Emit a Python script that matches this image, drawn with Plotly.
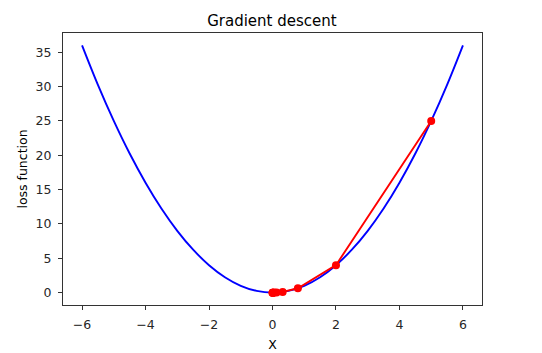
import plotly.graph_objects as go

# loss curve samples (y = x^2)
curve_x = [-6.0, -5.5, -5.0, -4.5, -4.0, -3.5, -3.0, -2.5, -2.0, -1.5, -1.0, -0.5, 0.0,
           0.5, 1.0, 1.5, 2.0, 2.5, 3.0, 3.5, 4.0, 4.5, 5.0, 5.5, 6.0]
curve_y = [36.0, 30.25, 25.0, 20.25, 16.0, 12.25, 9.0, 6.25, 4.0, 2.25, 1.0, 0.25, 0.0,
           0.25, 1.0, 2.25, 4.0, 6.25, 9.0, 12.25, 16.0, 20.25, 25.0, 30.25, 36.0]

# gradient descent steps
steps_x = [5.0, 2.0, 0.8, 0.32, 0.128, 0.0512, 0.02048, 0.008192, 0.0032768, 0.00131072]
steps_y = [25.0, 4.0, 0.64, 0.1024, 0.016384, 0.00262144, 0.00041943, 0.0000671, 0.0000107, 0.0000017]

x_ticks = [-6, -4, -2, 0, 2, 4, 6]
y_ticks = [0, 5, 10, 15, 20, 25, 30, 35]

fig = go.Figure()
fig.add_trace(go.Scatter(x=curve_x, y=curve_y, mode="lines",
                         line=dict(color="#0000ff", width=1.9, shape="spline"),
                         showlegend=False, hoverinfo="skip"))
fig.add_trace(go.Scatter(x=steps_x, y=steps_y, mode="lines+markers",
                         line=dict(color="#ff0000", width=1.9),
                         marker=dict(color="#ff0000", size=8),
                         showlegend=False))

axis_common = dict(showline=True, mirror=True, linecolor="#333333", linewidth=1,
                   showgrid=False, zeroline=False, ticks="outside", ticklen=4,
                   tickcolor="#333333", tickwidth=1, automargin=False,
                   tickfont=dict(family="DejaVu Sans", size=12.5, color="#262626"))

fig.update_layout(
    width=542, height=353,
    margin=dict(l=63, r=60, t=33, b=48),
    paper_bgcolor="white", plot_bgcolor="white",
    title=dict(text="Gradient descent", x=0.5017, xanchor="center",
               yref="container", y=1 - 21 / 353, yanchor="middle",
               font=dict(family="DejaVu Sans", size=15, color="#000000")),
    xaxis=dict(range=[-6.6, 6.6], tickvals=x_ticks, ticklabelstandoff=4,
               title=dict(text="X", standoff=9,
                          font=dict(family="DejaVu Sans", size=12.5, color="#000000")),
               **axis_common),
    yaxis=dict(range=[-1.8, 37.8], tickvals=y_ticks, ticklabelstandoff=4,
               title=dict(text="loss function", standoff=5,
                          font=dict(family="DejaVu Sans", size=12.5, color="#000000")),
               **axis_common),
)

fig.write_html("out.html")
